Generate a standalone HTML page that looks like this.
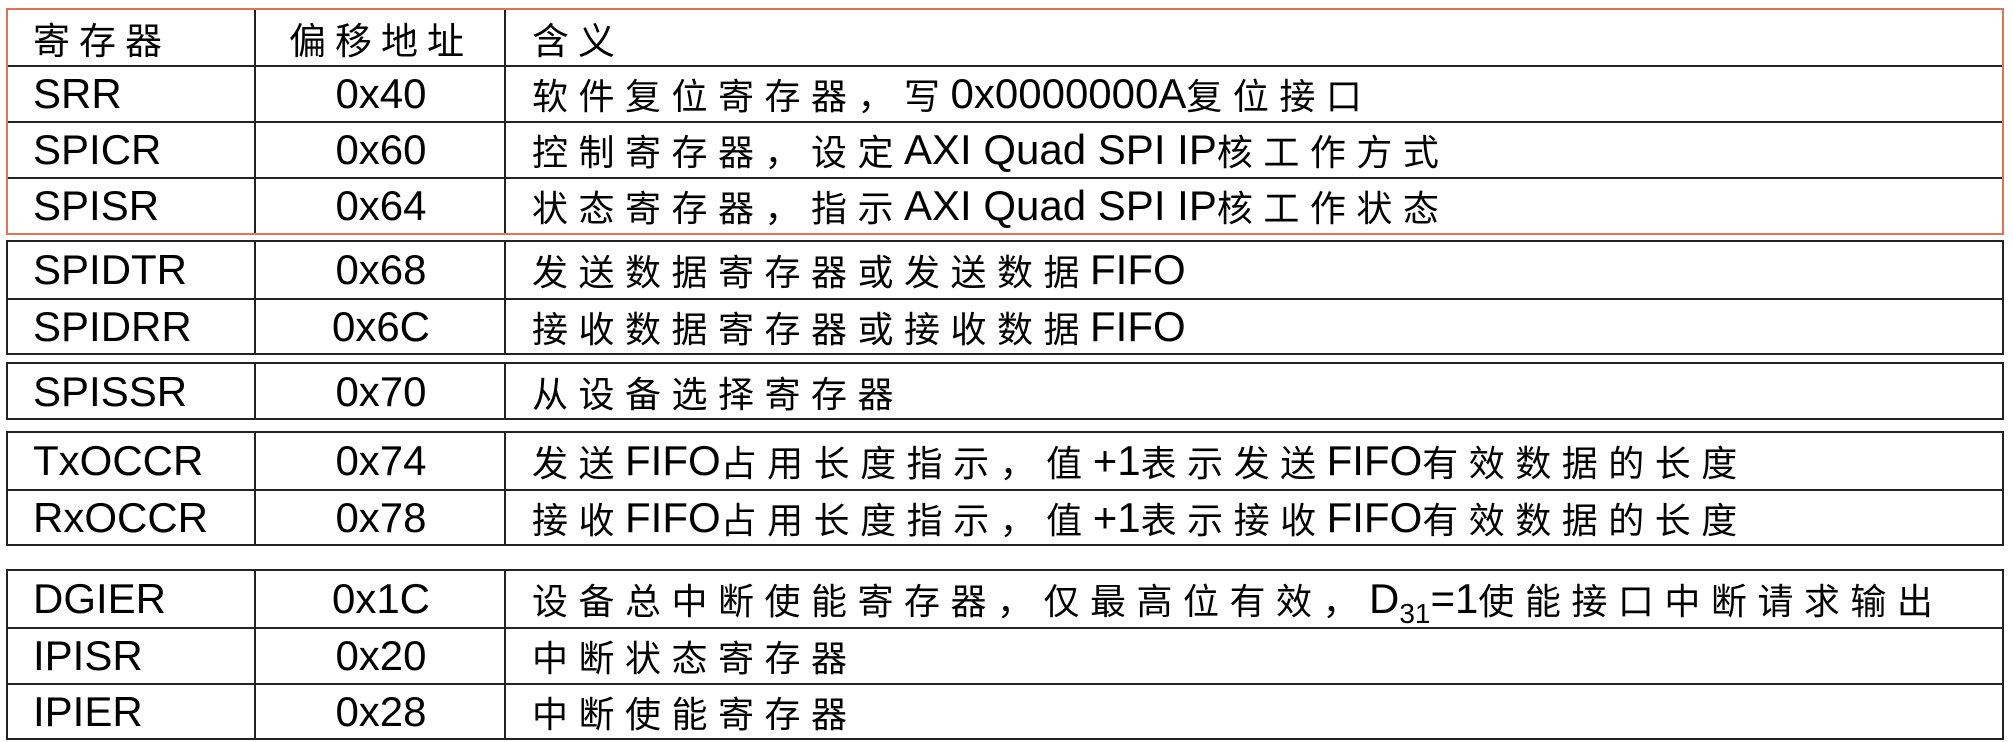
<!DOCTYPE html>
<html><head><meta charset="utf-8"><style>
html,body{margin:0;padding:0;background:#fff;}
body{width:2013px;height:742px;position:relative;overflow:hidden;font-family:"Liberation Sans","Noto Sans CJK SC",sans-serif;color:#000;}
.g{position:absolute;left:6px;width:1998px;box-sizing:border-box;border:2px solid #222;}
.g.red{border-color:#e07355;}
.r{position:relative;height:56px;border-top:2px solid #222;box-sizing:border-box;}
.r:first-child{border-top:none;}
.c{position:absolute;top:0;height:100%;display:flex;align-items:center;white-space:nowrap;font-size:42px;}
.c1{left:0;width:246px;padding-left:25px;box-sizing:border-box;}
.c2{left:246px;width:250px;border-left:2px solid #222;justify-content:center;}
.c3{left:496px;right:0;border-left:2px solid #222;padding-left:26px;}
.z{font-family:"Noto Sans CJK SC",sans-serif;font-size:36px;letter-spacing:10.5px;}
.h{font-family:"Noto Sans CJK SC",sans-serif;font-size:37px;letter-spacing:9px;}
.d{position:relative;display:inline-block;}
.d sub{font-size:28px;position:relative;top:10px;vertical-align:baseline;}
</style></head><body>
<div class="g red" style="top:8px;height:227px;">
 <div class="r" style="height:55px"><div class="c c1 h">寄存器</div><div class="c c2 h">偏移地址</div><div class="c c3 h">含义</div></div>
 <div class="r"><div class="c c1">SRR</div><div class="c c2">0x40</div><div class="c c3"><span class="z">软件复位寄存器，写</span>0x0000000A<span class="z">复位接口</span></div></div>
 <div class="r"><div class="c c1">SPICR</div><div class="c c2">0x60</div><div class="c c3"><span class="z">控制寄存器，设定</span>AXI Quad SPI IP<span class="z">核工作方式</span></div></div>
 <div class="r"><div class="c c1">SPISR</div><div class="c c2">0x64</div><div class="c c3"><span class="z">状态寄存器，指示</span>AXI Quad SPI IP<span class="z">核工作状态</span></div></div>
</div>
<div class="g" style="top:240px;height:115px;">
 <div class="r"><div class="c c1">SPIDTR</div><div class="c c2">0x68</div><div class="c c3"><span class="z">发送数据寄存器或发送数据</span>FIFO</div></div>
 <div class="r"><div class="c c1">SPIDRR</div><div class="c c2">0x6C</div><div class="c c3"><span class="z">接收数据寄存器或接收数据</span>FIFO</div></div>
</div>
<div class="g" style="top:362px;height:58px;">
 <div class="r"><div class="c c1">SPISSR</div><div class="c c2">0x70</div><div class="c c3"><span class="z">从设备选择寄存器</span></div></div>
</div>
<div class="g" style="top:431px;height:115px;">
 <div class="r"><div class="c c1">TxOCCR</div><div class="c c2">0x74</div><div class="c c3"><span class="z">发送</span>FIFO<span class="z">占用长度指示，值</span>+1<span class="z">表示发送</span>FIFO<span class="z">有效数据的长度</span></div></div>
 <div class="r"><div class="c c1">RxOCCR</div><div class="c c2">0x78</div><div class="c c3"><span class="z">接收</span>FIFO<span class="z">占用长度指示，值</span>+1<span class="z">表示接收</span>FIFO<span class="z">有效数据的长度</span></div></div>
</div>
<div class="g" style="top:569px;height:171px;">
 <div class="r"><div class="c c1">DGIER</div><div class="c c2">0x1C</div><div class="c c3"><span class="z">设备总中断使能寄存器，仅最高位有效，</span><span class="d">D<sub>31</sub>=1</span><span class="z">使能接口中断请求输出</span></div></div>
 <div class="r"><div class="c c1">IPISR</div><div class="c c2">0x20</div><div class="c c3"><span class="z">中断状态寄存器</span></div></div>
 <div class="r"><div class="c c1">IPIER</div><div class="c c2">0x28</div><div class="c c3"><span class="z">中断使能寄存器</span></div></div>
</div>
</body></html>
